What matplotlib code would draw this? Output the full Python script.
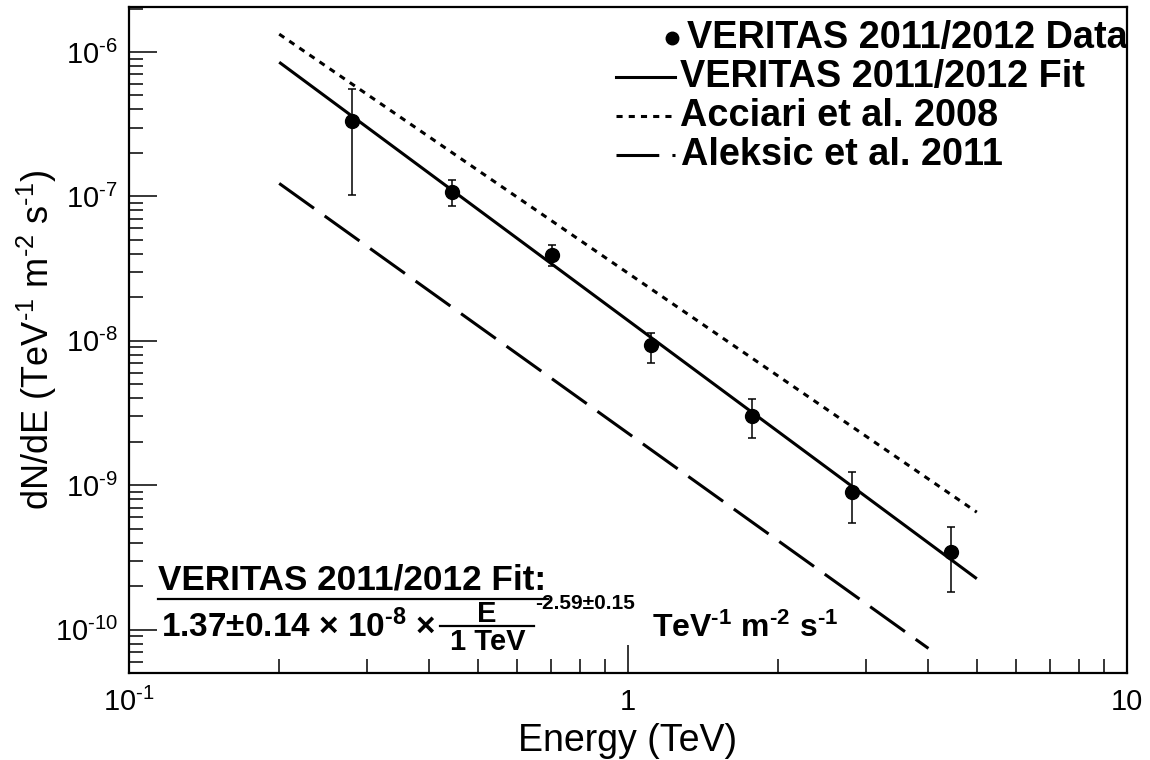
import numpy as np
import matplotlib
matplotlib.use("Agg")
import matplotlib.pyplot as plt
from matplotlib.lines import Line2D

# ---------------- data ----------------
energy = [0.280, 0.444, 0.704, 1.11, 1.77, 2.81, 4.44]
flux = [3.31e-7, 1.07e-7, 3.91e-8, 9.31e-9, 3.00e-9, 8.93e-10, 3.43e-10]
flux_hi = [5.52e-7, 1.29e-7, 4.58e-8, 1.13e-8, 3.94e-9, 1.23e-9, 5.11e-10]
flux_lo = [1.02e-7, 8.53e-8, 3.28e-8, 6.98e-9, 2.11e-9, 5.44e-10, 1.82e-10]

fit_E = [0.2, 5.0]
fit_F = [8.5e-7, 2.25e-10]
acciari_E = [0.2, 5.0]
acciari_F = [1.33e-6, 6.5e-10]
aleksic_E = [0.2, 4.0]
aleksic_F = [1.23e-7, 7.4e-11]

HY = "\u2010"  # short hyphen, as in the reference
legend_labels = ["VERITAS 2011/2012 Data", "VERITAS 2011/2012 Fit",
                 "Acciari et al. 2008", "Aleksic et al. 2011"]
x_ticks = [0.1, 1, 10]
x_ticklabels = [r"$10^{%s1}$" % HY, "1", "10"]
y_ticks = [1e-10, 1e-9, 1e-8, 1e-7, 1e-6]
y_ticklabels = [r"$10^{%s%d}$" % (HY, k) for k in (10, 9, 8, 7, 6)]
x_label = "Energy (TeV)"
y_label = r"dN/dE (TeV$^{%s1}$ m$^{%s2}$ s$^{%s1}$)" % (HY, HY, HY)
fit_title = "VERITAS 2011/2012 Fit:"
fit_norm = "1.37\u00b10.14"
fit_index = "-2.59\u00b10.15"

# ---------------- style ----------------
plt.rcParams['font.family'] = ['Liberation Sans', 'DejaVu Sans']
plt.rcParams['mathtext.fontset'] = 'custom'
plt.rcParams['mathtext.rm'] = 'Liberation Sans'
plt.rcParams['mathtext.it'] = 'Liberation Sans:italic'
plt.rcParams['mathtext.bf'] = 'Liberation Sans:bold'
plt.rcParams['mathtext.default'] = 'regular'
plt.rcParams['axes.unicode_minus'] = False

W, H = 1150, 760
fig = plt.figure(figsize=(W / 100, H / 100), dpi=100)
L, R, T, B = 129, 1127, 7, 673
ax = fig.add_axes([L / W, (H - B) / H, (R - L) / W, (B - T) / H])

ax.set_xscale('log')
ax.set_yscale('log')
ax.set_xlim(0.1, 10)
ax.set_ylim(5e-11, 2.05e-6)

lw = 2.2
# lines
ax.plot(fit_E, fit_F, color='black', lw=lw, solid_capstyle='butt')
ax.plot(acciari_E, acciari_F, color='black', lw=lw, dashes=(2.0, 2.0))
ax.plot(aleksic_E, aleksic_F, color='black', lw=lw, dashes=(14, 4.3))

# data points
yerr = [np.array(flux) - np.array(flux_lo), np.array(flux_hi) - np.array(flux)]
ax.errorbar(energy, flux, yerr=yerr, fmt='o', color='black', ms=10,
            elinewidth=1.1, capsize=3, capthick=1.1, zorder=5)

# axes look (ROOT-like)
for s in ax.spines.values():
    s.set_linewidth(1.6)
ax.tick_params(which='both', direction='in', top=False, right=False, width=1.1)
ax.tick_params(which='major', length=20)
ax.tick_params(which='minor', length=10)
ax.tick_params(axis='y', which='major', labelsize=21, pad=8)
ax.tick_params(axis='x', which='major', labelsize=21, pad=11)
ax.set_xticks(x_ticks)
ax.set_xticklabels(x_ticklabels)
ax.set_yticks(y_ticks)
ax.set_yticklabels(y_ticklabels)
ax.yaxis.set_minor_locator(matplotlib.ticker.LogLocator(base=10, subs=np.arange(2, 10), numticks=20))
ax.xaxis.set_minor_locator(matplotlib.ticker.LogLocator(base=10, subs=np.arange(2, 10), numticks=20))
ax.yaxis.set_minor_formatter(matplotlib.ticker.NullFormatter())
ax.xaxis.set_minor_formatter(matplotlib.ticker.NullFormatter())

ax.set_xlabel(x_label, fontsize=27, va='top')
ax.xaxis.set_label_coords(0.5, -(723 - B) / (B - T))
ax.set_ylabel(y_label, fontsize=26)
ax.yaxis.set_label_coords(-(L - 59) / (R - L), 0.5)


def fx(x):
    return x / W


def fy(y):
    return 1 - y / H


# ---------------- legend (manual, ROOT-like) ----------------
rows = [38, 77, 116, 155]
hx0, hx1 = 616, 675
fig.add_artist(Line2D([fx(672)], [fy(rows[0])], marker='o', ms=9, color='black',
                      transform=fig.transFigure))
fig.add_artist(Line2D([fx(hx0), fx(hx1)], [fy(rows[1])] * 2, color='black', lw=lw,
                      transform=fig.transFigure))
fig.add_artist(Line2D([fx(hx0), fx(hx1)], [fy(rows[2])] * 2, color='black', lw=lw,
                      dashes=(2.0, 2.0), transform=fig.transFigure))
fig.add_artist(Line2D([fx(hx0), fx(hx1)], [fy(rows[3])] * 2, color='black', lw=lw,
                      dashes=(14, 4.3), transform=fig.transFigure))
text_x = [687, 680, 680, 681]
for lab, y, x in zip(legend_labels, rows, text_x):
    fig.text(fx(x), fy(y), lab, weight='bold', fontsize=27.3,
             ha='left', va='center')

# ---------------- fit annotation ----------------
fig.text(fx(158), fy(590), fit_title, weight='bold', fontsize=25.3, ha='left', va='baseline')
fig.add_artist(Line2D([fx(158), fx(548)], [fy(599)] * 2, color='black', lw=1.6,
                      transform=fig.transFigure))
fig.text(fx(161), fy(637), fit_norm + r" $\times$ $\mathbf{10^{%s8}}$ $\times$" % HY,
         weight='bold', fontsize=24, ha='left', va='baseline')
fig.text(fx(487), fy(622), "E", weight='bold', fontsize=21, ha='center', va='baseline')
fig.add_artist(Line2D([fx(440), fx(534)], [fy(626)] * 2, color='black', lw=1.6,
                      transform=fig.transFigure))
fig.text(fx(488), fy(650), "1 TeV", weight='bold', fontsize=21, ha='center', va='baseline')
fig.text(fx(535), fy(609), fit_index, weight='bold', fontsize=15, ha='left', va='baseline')
fig.text(fx(652), fy(637), r"$\mathbf{TeV^{%s1}\ m^{%s2}\ s^{%s1}}$" % (HY, HY, HY),
         fontsize=23, ha='left', va='baseline')

fig.savefig('out.png', dpi=100)
